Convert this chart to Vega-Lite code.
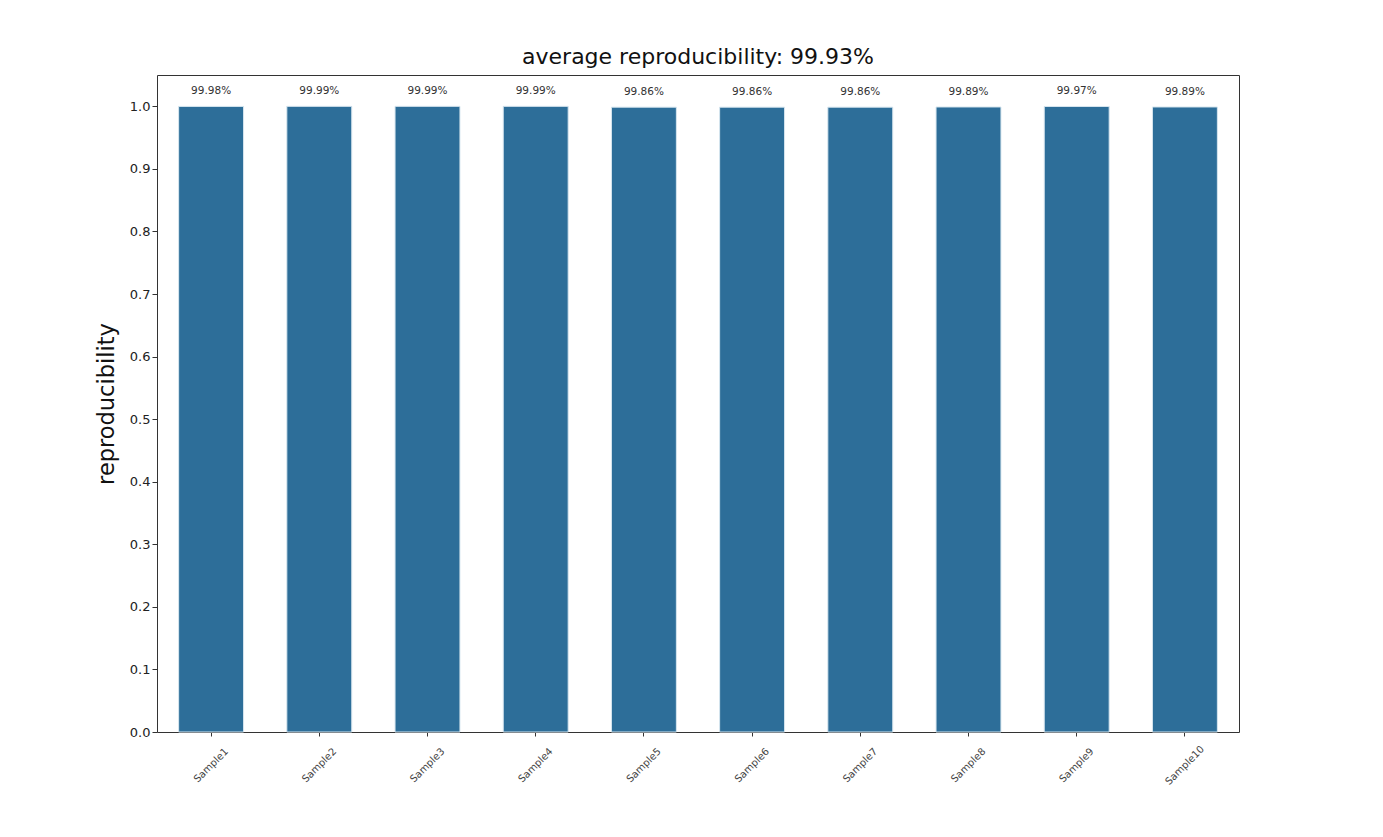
{
  "$schema": "https://vega.github.io/schema/vega-lite/v6.json",
  "width": 1082,
  "height": 657,
  "autosize": {"type": "none"},
  "padding": {"left": 157, "top": 75, "right": 144, "bottom": 105},
  "background": "white",
  "config": {
    "font": "DejaVu Sans",
    "view": {"stroke": "#333333", "strokeWidth": 1},
    "axis": {"grid": false, "domain": false, "tickColor": "#333333", "tickSize": 4, "labelColor": "#222222"}
  },
  "title": {"text": "average reproducibility: 99.93%", "fontSize": 22, "fontWeight": "normal", "color": "#111111", "offset": 6},
  "data": {
    "values": [
      {"sample": "Sample1", "value": 0.9998},
      {"sample": "Sample2", "value": 0.9999},
      {"sample": "Sample3", "value": 0.9999},
      {"sample": "Sample4", "value": 0.9999},
      {"sample": "Sample5", "value": 0.9986},
      {"sample": "Sample6", "value": 0.9986},
      {"sample": "Sample7", "value": 0.9986},
      {"sample": "Sample8", "value": 0.9989},
      {"sample": "Sample9", "value": 0.9997},
      {"sample": "Sample10", "value": 0.9989}
    ]
  },
  "encoding": {
    "x": {
      "field": "sample", "type": "nominal", "sort": null,
      "scale": {"paddingInner": 0.4, "paddingOuter": 0.2},
      "axis": {"title": null, "labelAngle": -45, "labelAlign": "center", "labelBaseline": "middle", "labelFontSize": 10, "labelColor": "#444444", "labelPadding": 29}
    },
    "y": {
      "field": "value", "type": "quantitative",
      "scale": {"domain": [0, 1.05], "nice": false},
      "axis": {"title": "reproducibility", "titleFontSize": 22.5, "titleFontWeight": "normal", "titleColor": "#111111", "titlePadding": 11, "tickSize": 5, "values": [0, 0.1, 0.2, 0.3, 0.4, 0.5, 0.6, 0.7, 0.8, 0.9, 1.0], "format": ".1f", "labelFontSize": 13}
    }
  },
  "layer": [
    {"mark": {"type": "bar", "color": "#2d6e99", "stroke": "#d7e6ef", "strokeWidth": 1}},
    {"mark": {"type": "text", "dy": -15, "fontSize": 10.5, "color": "#333333"},
     "encoding": {"text": {"field": "value", "type": "quantitative", "format": ".2%"}}}
  ]
}
